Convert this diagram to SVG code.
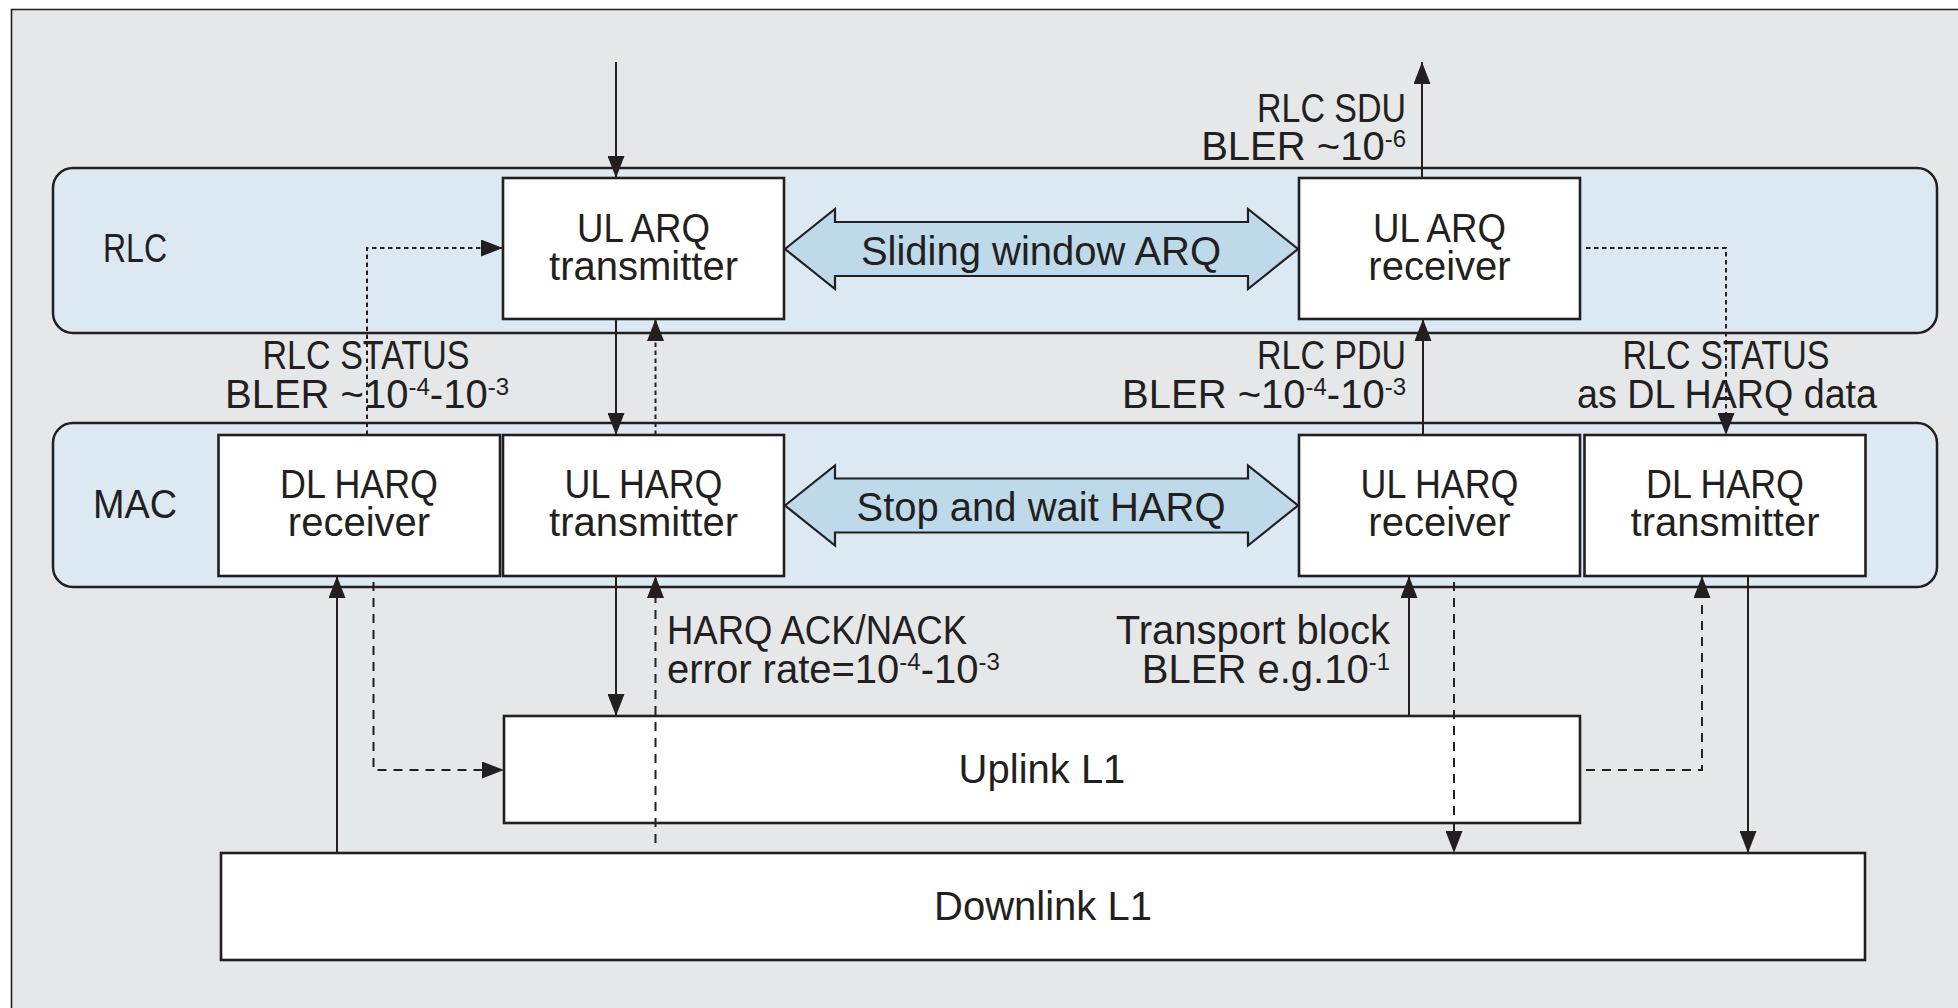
<svg xmlns="http://www.w3.org/2000/svg" width="1958" height="1008" viewBox="0 0 1958 1008">
<style>
text{font-family:"Liberation Sans",Arial,sans-serif;font-size:40px;fill:#231f20}
.sup{font-size:24px}
.band{fill:#dce9f3;stroke:#231f20;stroke-width:2.5}
.box{fill:#ffffff;stroke:#231f20;stroke-width:2.6}
.big{fill:#bdd9ea;stroke:#231f20;stroke-width:2.2}
.c{fill:none;stroke:#231f20;stroke-width:2}
.dot{stroke-dasharray:4.5 3.5}
.dash{stroke-dasharray:9 7}
.m{text-anchor:middle}
.e{text-anchor:end}
</style>
<defs>
<marker id="ah" markerUnits="userSpaceOnUse" markerWidth="22" markerHeight="17" viewBox="0 0 22 17" refX="22" refY="8.5" orient="auto">
<path d="M0,0 L22,8.5 L0,17 Z" fill="#231f20"/>
</marker>
</defs>
<rect x="0" y="0" width="1958" height="1008" fill="#ffffff"/>
<rect x="11" y="9" width="1947" height="999" fill="#e6e7e9"/>
<path d="M11.5,1008 L11.5,9.5 L1958,9.5" fill="none" stroke="#231f20" stroke-width="1.6"/>

<g id="rlc">
<rect class="band" x="53" y="168" width="1884" height="165" rx="20" ry="20"/>
<text x="103" y="262" textLength="64" lengthAdjust="spacingAndGlyphs">RLC</text>
</g>
<g id="mac">
<rect class="band" x="53" y="423" width="1884" height="164" rx="20" ry="20"/>
<text x="93" y="518" textLength="84" lengthAdjust="spacingAndGlyphs">MAC</text>
</g>

<g id="ul-arq-tx">
<rect class="box" x="503" y="178" width="281" height="141"/>
<text class="m" x="643.5" y="242" textLength="133" lengthAdjust="spacingAndGlyphs">UL ARQ</text>
<text class="m" x="643.5" y="280">transmitter</text>
</g>
<g id="ul-arq-rx">
<rect class="box" x="1299" y="178" width="281" height="141"/>
<text class="m" x="1439.5" y="242" textLength="133" lengthAdjust="spacingAndGlyphs">UL ARQ</text>
<text class="m" x="1439.5" y="280">receiver</text>
</g>
<g id="sliding-window">
<path class="big" d="M785,249 L835,209 L835,222 L1248,222 L1248,209 L1298,249 L1248,289 L1248,276 L835,276 L835,289 Z"/>
<text class="m" x="1041" y="265">Sliding window ARQ</text>
</g>

<g id="dl-harq-rx">
<rect class="box" x="218.5" y="435" width="281.5" height="141"/>
<text class="m" x="359" y="498" textLength="158" lengthAdjust="spacingAndGlyphs">DL HARQ</text>
<text class="m" x="359" y="536">receiver</text>
</g>
<g id="ul-harq-tx">
<rect class="box" x="503" y="435" width="281" height="141"/>
<text class="m" x="643.5" y="498" textLength="158" lengthAdjust="spacingAndGlyphs">UL HARQ</text>
<text class="m" x="643.5" y="536">transmitter</text>
</g>
<g id="ul-harq-rx">
<rect class="box" x="1299" y="435" width="281" height="141"/>
<text class="m" x="1439.5" y="498" textLength="158" lengthAdjust="spacingAndGlyphs">UL HARQ</text>
<text class="m" x="1439.5" y="536">receiver</text>
</g>
<g id="dl-harq-tx">
<rect class="box" x="1584.5" y="435" width="281" height="141"/>
<text class="m" x="1725" y="498" textLength="158" lengthAdjust="spacingAndGlyphs">DL HARQ</text>
<text class="m" x="1725" y="536">transmitter</text>
</g>
<g id="stop-and-wait">
<path class="big" d="M785,505.5 L835,465.5 L835,478.5 L1248,478.5 L1248,465.5 L1298,505.5 L1248,545.5 L1248,532.5 L835,532.5 L835,545.5 Z"/>
<text class="m" x="1041" y="521">Stop and wait HARQ</text>
</g>

<g id="uplink-l1">
<rect class="box" x="504" y="716" width="1076" height="107"/>
<text class="m" x="1042" y="783">Uplink L1</text>
</g>
<g id="downlink-l1">
<rect class="box" x="221" y="853" width="1644" height="107"/>
<text class="m" x="1043" y="920">Downlink L1</text>
</g>

<g id="connectors">
<line class="c" x1="616" y1="62" x2="616" y2="178" marker-end="url(#ah)"/>
<line class="c" x1="1422" y1="178" x2="1422" y2="62" marker-end="url(#ah)"/>
<polyline class="c dot" points="367,435 367,248 503,248" marker-end="url(#ah)"/>
<line class="c" x1="616" y1="319" x2="616" y2="435" marker-end="url(#ah)"/>
<line class="c dot" x1="655.5" y1="435" x2="655.5" y2="319" marker-end="url(#ah)"/>
<line class="c" x1="1423" y1="435" x2="1423" y2="319" marker-end="url(#ah)"/>
<polyline class="c dot" points="1586,248 1726,248 1726,435" marker-end="url(#ah)"/>
<line class="c" x1="337" y1="853" x2="337" y2="576" marker-end="url(#ah)"/>
<polyline class="c dash" points="373.5,582 373.5,770 504,770" marker-end="url(#ah)"/>
<line class="c" x1="616" y1="576" x2="616" y2="716" marker-end="url(#ah)"/>
<line class="c dash" x1="655.5" y1="843" x2="655.5" y2="576" marker-end="url(#ah)"/>
<line class="c" x1="1409" y1="716" x2="1409" y2="576" marker-end="url(#ah)"/>
<line class="c dash" x1="1454" y1="582" x2="1454" y2="853" marker-end="url(#ah)"/>
<polyline class="c dash" points="1586,770 1702,770 1702,576" marker-end="url(#ah)"/>
<line class="c" x1="1748" y1="576" x2="1748" y2="853" marker-end="url(#ah)"/>
</g>

<g id="labels">
<text class="e" x="1406" y="122" textLength="149" lengthAdjust="spacingAndGlyphs">RLC SDU</text>
<text class="e" x="1406" y="160">BLER ~10<tspan class="sup" dy="-13">-6</tspan></text>
<text class="m" x="366" y="369" textLength="207" lengthAdjust="spacingAndGlyphs">RLC STATUS</text>
<text class="m" x="367" y="408">BLER ~10<tspan class="sup" dy="-13">-4</tspan><tspan dy="13">-10</tspan><tspan class="sup" dy="-13">-3</tspan></text>
<text class="e" x="1406" y="369" textLength="149" lengthAdjust="spacingAndGlyphs">RLC PDU</text>
<text class="e" x="1406" y="408">BLER ~10<tspan class="sup" dy="-13">-4</tspan><tspan dy="13">-10</tspan><tspan class="sup" dy="-13">-3</tspan></text>
<text class="m" x="1726" y="369" textLength="207" lengthAdjust="spacingAndGlyphs">RLC STATUS</text>
<text class="m" x="1727" y="408" textLength="300" lengthAdjust="spacingAndGlyphs">as DL HARQ data</text>
<text x="667" y="644" textLength="300" lengthAdjust="spacingAndGlyphs">HARQ ACK/NACK</text>
<text x="667" y="683">error rate=10<tspan class="sup" dy="-13">-4</tspan><tspan dy="13">-10</tspan><tspan class="sup" dy="-13">-3</tspan></text>
<text class="e" x="1390" y="644">Transport block</text>
<text class="e" x="1390" y="683">BLER e.g.10<tspan class="sup" dy="-13">-1</tspan></text>
</g>
</svg>
